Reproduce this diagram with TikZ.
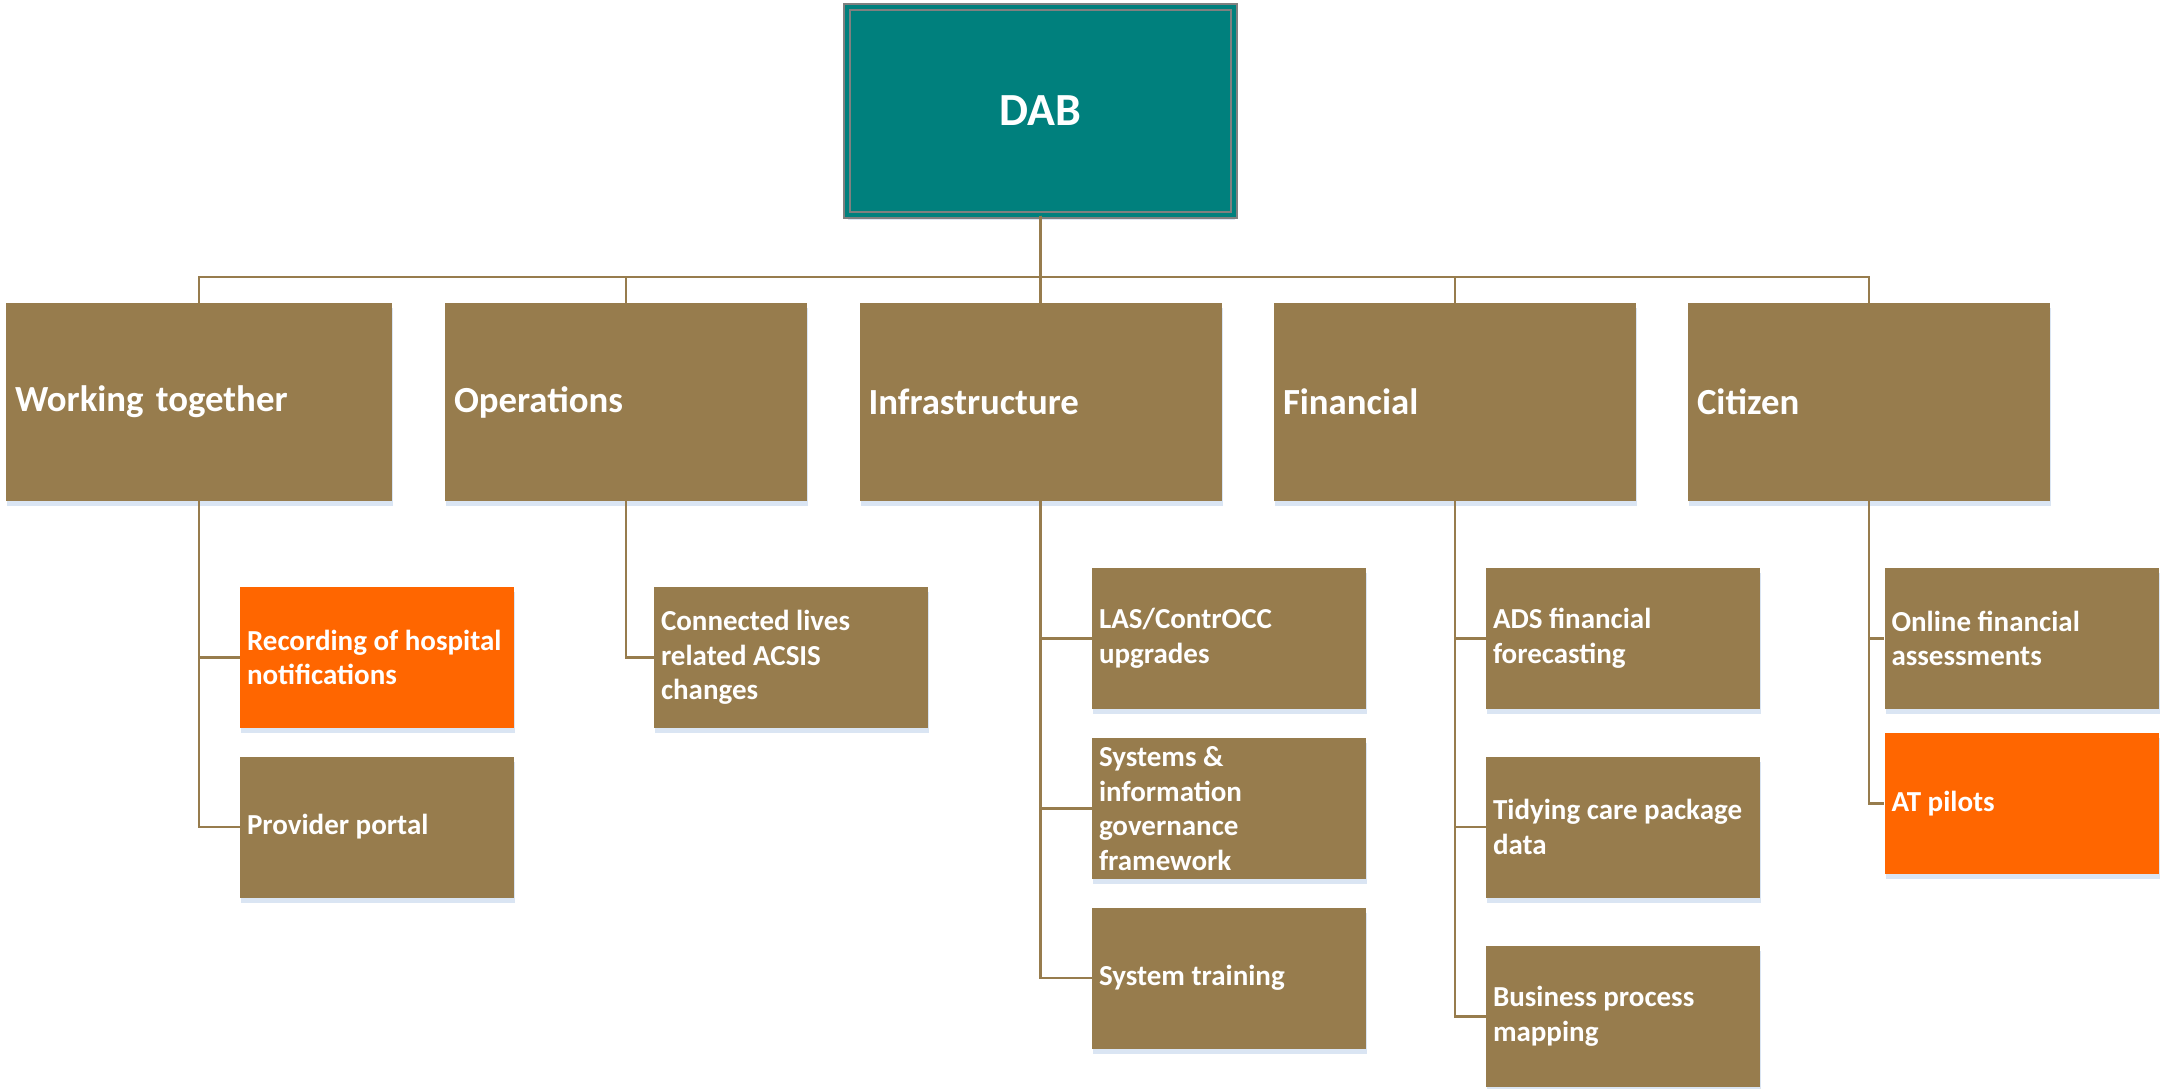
\documentclass[tikz,border=0pt]{standalone}
\usepackage{fontspec}
\setmainfont{Carlito}
\usetikzlibrary{shadows}
\definecolor{dabteal}{RGB}{0,128,125}
\definecolor{bronze}{RGB}{151,124,77}
\definecolor{hotorange}{RGB}{255,102,0}
\definecolor{shadowblue}{RGB}{218,229,243}
\tikzstyle{board}=[rectangle, fill=dabteal, draw=gray, line width=0.6pt
,double=dabteal, double distance=2.4pt
,minimum width=193.5pt, minimum height=104pt
,text=white, font=\bfseries\fontsize{23}{28}\selectfont
,drop shadow={shadow xshift=0.5pt, shadow yshift=-2.5pt, fill=shadowblue, opacity=1}
]
\tikzstyle{stream}=[rectangle, fill=bronze, minimum height=99pt
,inner xsep=4.5pt, align=left
,text=white, font=\bfseries\fontsize{18.4}{22}\selectfont
,drop shadow={shadow xshift=0.5pt, shadow yshift=-2.5pt, fill=shadowblue, opacity=1}
]
\tikzstyle{task}=[rectangle, minimum height=70.5pt, text width=130pt
,inner xsep=3.5pt, align=flush left
,text=white, font=\bfseries\fontsize{14.5}{17.25}\selectfont
,drop shadow={shadow xshift=0.5pt, shadow yshift=-2.5pt, fill=shadowblue, opacity=1}
]
\tikzstyle{edge} = [draw, line width=1.25pt, bronze, -]

\begin{document}
\begin{tikzpicture}[x=0.5pt, y=-0.5pt]
    \useasboundingbox (0,0) rectangle (2164,1088);
    % Board at the top
    \node[board] (DAB) at (1040.5,111) {DAB};
    \coordinate (bus) at (1040.5,277);

    % Workstreams
    \foreach \pos/\name/\tw/\txt in {{(199,402)/WT/184pt/Working together}, {(626,402)/OPS/172pt/Operations}, {(1040.5,402)/INF/172pt/Infrastructure}, {(1455,402)/FIN/172pt/Financial}, {(1869,402)/CIT/172pt/Citizen}}
        \node[stream, text width=\tw] (\name) at \pos {\txt};

    % Projects under each workstream
    \foreach \pos/\name/\col/\txt in {{(377,657.5)/REC/hotorange/Recording of hospital\\notifications}, {(377,827)/PRO/bronze/Provider portal}, {(791,657.5)/CON/bronze/Connected lives\\related ACSIS\\changes}, {(1229,638.5)/LAS/bronze/LAS\slash ContrOCC\\upgrades}, {(1229,808.5)/SYS/bronze/Systems \&\\information\\governance\\framework}, {(1229,978)/TRN/bronze/System training}, {(1623,638.5)/ADS/bronze/ADS financial\\forecasting}, {(1623,827)/TID/bronze/Tidying care package\\data}, {(1623,1016.5)/BPM/bronze/Business process\\mapping}, {(2021.5,638.5)/ONL/bronze/Online financial\\assessments}, {(2021.5,803.5)/ATP/hotorange/AT pilots}}
        \node[task, fill=\col] (\name) at \pos {\txt};

    % Connect board with workstreams
    \foreach \dest in {WT, OPS, INF, FIN, CIT}
        \path[edge] (DAB.south) -- (DAB.south |- bus) -| (\dest.north);

    % Connect workstreams with projects
    \foreach \source/ \dest in {WT/REC, WT/PRO, OPS/CON, INF/LAS, INF/SYS, INF/TRN, FIN/ADS, FIN/TID, FIN/BPM, CIT/ONL, CIT/ATP}
        \path[edge] (\source.south) |- (\dest.west);

\end{tikzpicture}
\end{document}
